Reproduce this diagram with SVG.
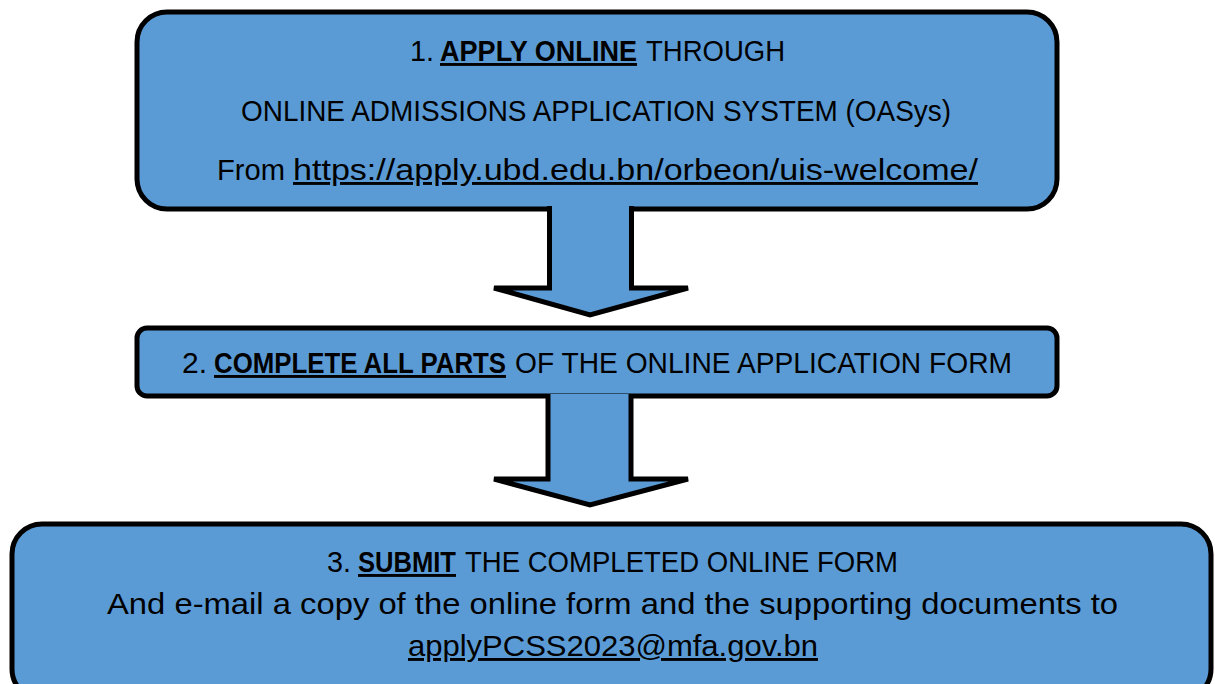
<svg xmlns="http://www.w3.org/2000/svg" width="1215" height="684" viewBox="0 0 1215 684">
<style>
.box{fill:#5B9BD5;stroke:#000;stroke-width:5}
.arr{fill:#5B9BD5;stroke:#000;stroke-width:5;stroke-linejoin:miter}
text{font-family:"Liberation Sans",Arial,sans-serif;font-size:29px;fill:#000}
.b{font-weight:bold}
.u{text-decoration:underline}
</style>
<rect width="1215" height="684" fill="#fff"/>
<g id="step1">
<rect class="box" x="137" y="12" width="920" height="197" rx="30"/>
<text x="410" y="61" textLength="24" lengthAdjust="spacingAndGlyphs">1.</text>
<text class="b u" x="440" y="61" textLength="197" lengthAdjust="spacingAndGlyphs">APPLY ONLINE</text>
<text x="646" y="61" textLength="139" lengthAdjust="spacingAndGlyphs">THROUGH</text>
<text x="241" y="121" textLength="710" lengthAdjust="spacingAndGlyphs">ONLINE ADMISSIONS APPLICATION SYSTEM (OASys)</text>
<text x="217" y="180" textLength="68" lengthAdjust="spacingAndGlyphs">From</text>
<text class="u" x="293" y="180" textLength="685" lengthAdjust="spacingAndGlyphs">https://apply.ubd.edu.bn/orbeon/uis-welcome/</text>
</g>
<g id="step2">
<rect class="box" x="137" y="328" width="920" height="68" rx="10"/>
<text x="182" y="373" textLength="25" lengthAdjust="spacingAndGlyphs">2.</text>
<text class="b u" x="214" y="373" textLength="292" lengthAdjust="spacingAndGlyphs">COMPLETE ALL PARTS</text>
<text x="515" y="373" textLength="497" lengthAdjust="spacingAndGlyphs">OF THE ONLINE APPLICATION FORM</text>
</g>
<g id="step3">
<rect class="box" x="12" y="524" width="1199" height="175" rx="30"/>
<text x="327" y="572" textLength="24" lengthAdjust="spacingAndGlyphs">3.</text>
<text class="b u" x="358" y="572" textLength="98" lengthAdjust="spacingAndGlyphs">SUBMIT</text>
<text x="465" y="572" textLength="433" lengthAdjust="spacingAndGlyphs">THE COMPLETED ONLINE FORM</text>
<text x="107" y="614" textLength="1011" lengthAdjust="spacingAndGlyphs">And e-mail a copy of the online form and the supporting documents to</text>
<text class="u" x="408" y="656" textLength="410" lengthAdjust="spacingAndGlyphs">applyPCSS2023@mfa.gov.bn</text>
</g>
<g id="connectors">
<path class="arr" d="M549.5,206 V288 H494 L590,315 L688,288 H631.5 V206"/>
<path class="arr" d="M548,394 V479 H494 L590,505 L688,479 H631 V394"/>
</g>
</svg>
